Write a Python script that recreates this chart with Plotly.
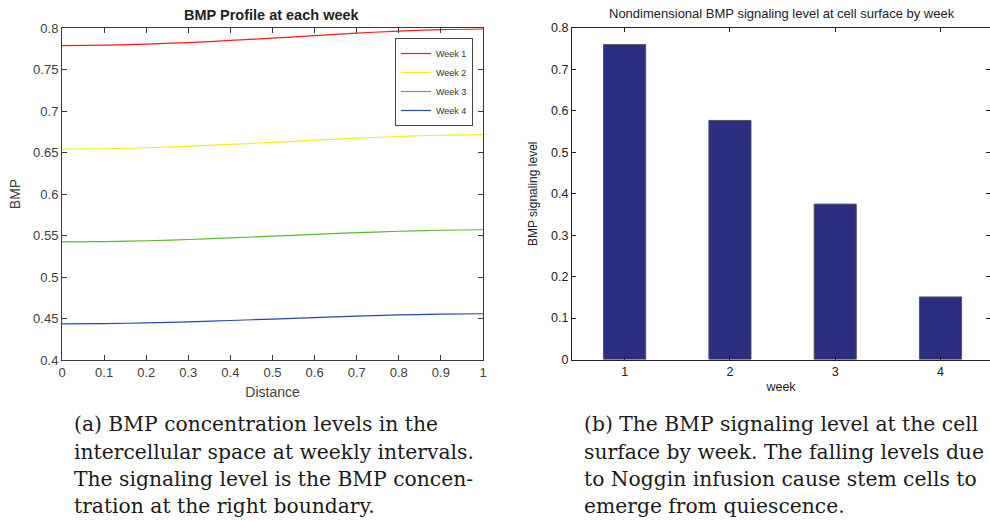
import plotly.graph_objects as go

# ---------------- data ----------------
distance = [0.0, 0.1, 0.2, 0.3, 0.4, 0.5, 0.6, 0.7, 0.8, 0.9, 1.0]
week1 = [0.7788, 0.7793, 0.7805, 0.7825, 0.7850, 0.7878, 0.7908, 0.7938, 0.7962, 0.7980, 0.7988]
week2 = [0.6540, 0.6545, 0.6557, 0.6575, 0.6598, 0.6622, 0.6648, 0.6672, 0.6693, 0.6708, 0.6716]
week3 = [0.5423, 0.5427, 0.5437, 0.5452, 0.5471, 0.5492, 0.5514, 0.5534, 0.5551, 0.5563, 0.5569]
week4 = [0.4435, 0.4439, 0.4447, 0.4460, 0.4476, 0.4493, 0.4511, 0.4528, 0.4543, 0.4552, 0.4557]
series_names = ["Week 1", "Week 2", "Week 3", "Week 4"]
series_colors = ["#ff1a1a", "#f2ef1a", "#5cb82e", "#2a45a8"]

weeks = [1, 2, 3, 4]
signaling = [0.760, 0.577, 0.375, 0.151]

left_ticks_x = [0, 0.1, 0.2, 0.3, 0.4, 0.5, 0.6, 0.7, 0.8, 0.9, 1]
left_ticks_y = [0.4, 0.45, 0.5, 0.55, 0.6, 0.65, 0.7, 0.75, 0.8]
right_ticks_y = [0, 0.1, 0.2, 0.3, 0.4, 0.5, 0.6, 0.7, 0.8]

caption_a = ["(a) BMP concentration levels in the",
             "intercellular space at weekly intervals.",
             "The signaling level is the BMP concen-",
             "tration at the right boundary."]
caption_b = ["(b) The BMP signaling level at the cell",
             "surface by week. The falling levels due",
             "to Noggin infusion cause stem cells to",
             "emerge from quiescence."]

# ---------------- figure ----------------
W, H = 990, 521
fig = go.Figure()

for name, col, ys in zip(series_names, series_colors, [week1, week2, week3, week4]):
    fig.add_trace(go.Scatter(x=distance, y=ys, mode="lines", name=name,
                             line=dict(color=col, width=1.2, shape="spline"),
                             xaxis="x", yaxis="y"))

fig.add_trace(go.Bar(x=weeks, y=signaling, width=0.4, showlegend=False,
                     marker=dict(color="#2b2d80", line=dict(color="#555555", width=1)),
                     xaxis="x2", yaxis="y2"))

def px_x(p):
    return p / W

def px_y(p):
    return 1 - p / H

axis_col = "#3a3a3a"
sans = "Liberation Sans, Arial, sans-serif"

fig.update_layout(
    width=W, height=H,
    margin=dict(l=0, r=0, t=0, b=0, autoexpand=False),
    paper_bgcolor="white", plot_bgcolor="white",
    font=dict(family=sans, color="#333333"),
    xaxis=dict(domain=[px_x(62), px_x(483)], range=[0, 1], tickvals=left_ticks_x,
               ticktext=[f"{v:g}" for v in left_ticks_x], automargin=False,
               ticks="inside", ticklen=5, tickcolor=axis_col, showline=True, linecolor=axis_col,
               linewidth=1, mirror="ticks", showgrid=False, zeroline=False,
               tickfont=dict(size=13, color="#404040"),
               title=dict(text="Distance", font=dict(size=14, color="#404040"), standoff=8),
               anchor="y"),
    yaxis=dict(domain=[px_y(360), px_y(28)], range=[0.4, 0.8], tickvals=left_ticks_y,
               ticktext=[f"{v:g}" for v in left_ticks_y], automargin=False,
               ticks="inside", ticklen=5, tickcolor=axis_col, showline=True, linecolor=axis_col,
               linewidth=1, mirror="ticks", showgrid=False, zeroline=False,
               tickfont=dict(size=13, color="#404040"),
               title=dict(text="BMP", font=dict(size=14, color="#404040"), standoff=9),
               anchor="x"),
    xaxis2=dict(domain=[px_x(572), 1.0], range=[0.5, 4.47], tickvals=weeks, automargin=False,
                ticks="inside", ticklen=4, tickcolor="#222222", showline=True, linecolor="#222222",
                linewidth=1, mirror="ticks", showgrid=False, zeroline=False,
                tickfont=dict(size=12.5, color="#222222"),
                title=dict(text="week", font=dict(size=12.5, color="#222222"), standoff=4),
                anchor="y2"),
    yaxis2=dict(domain=[px_y(359.5), px_y(28)], range=[0, 0.8], tickvals=right_ticks_y,
                ticktext=[f"{v:g}" for v in right_ticks_y], automargin=False,
                ticks="inside", ticklen=4, tickcolor="#222222", showline=True, linecolor="#222222",
                linewidth=1, mirror="ticks", showgrid=False, zeroline=False,
                tickfont=dict(size=12.5, color="#222222"),
                title=dict(text="BMP signaling level", font=dict(size=12, color="#222222"), standoff=10),
                anchor="x2"),
    legend=dict(x=px_x(473), y=px_y(38), xanchor="right", yanchor="top",
                bgcolor="white", bordercolor="#444444", borderwidth=1,
                font=dict(size=9, color="#333333"), tracegroupgap=0,
                itemwidth=30),
    showlegend=True,
)

annotations = [
    dict(text="<b>BMP Profile at each week</b>", x=px_x(272), y=px_y(15), xref="paper", yref="paper",
         showarrow=False, font=dict(size=14.5, color="#222222", family=sans), xanchor="center", yanchor="middle"),
    dict(text="Nondimensional BMP signaling level at cell surface by week", x=px_x(782), y=px_y(14),
         xref="paper", yref="paper", showarrow=False, font=dict(size=13, color="#222222", family=sans),
         xanchor="center", yanchor="middle"),
]
serif = "DejaVu Serif, Liberation Serif, serif"
line_y = [424, 452, 479, 506]
for i, line in enumerate(caption_a):
    annotations.append(dict(text=line, x=px_x(72), y=px_y(line_y[i]), xref="paper", yref="paper",
                            showarrow=False, xanchor="left", yanchor="middle",
                            font=dict(size=20.3, color="#1a1a1a", family=serif)))
for i, line in enumerate(caption_b):
    annotations.append(dict(text=line, x=px_x(582), y=px_y(line_y[i]), xref="paper", yref="paper",
                            showarrow=False, xanchor="left", yanchor="middle",
                            font=dict(size=20.3, color="#1a1a1a", family=serif)))
fig.update_layout(annotations=annotations)

fig.write_html("out.html", config={"displayModeBar": False},
               post_script="document.body.style.margin='0';document.body.style.overflow='hidden';")
